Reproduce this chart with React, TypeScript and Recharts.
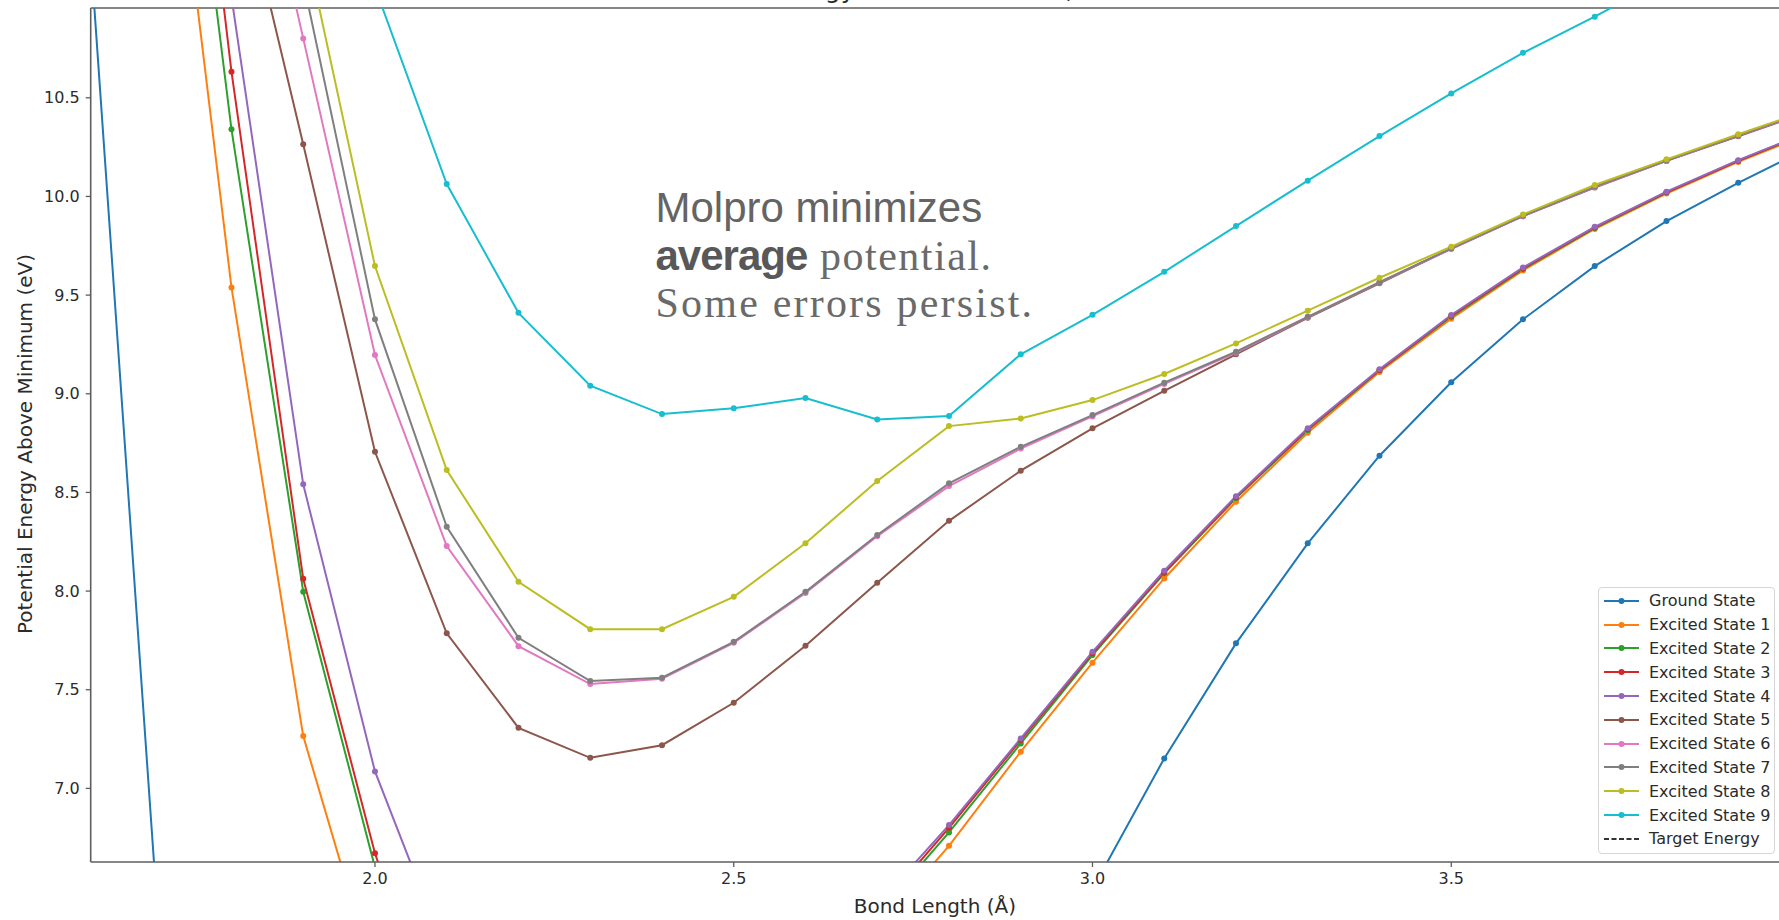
import { LineChart, Line, XAxis, YAxis, Legend, ReferenceLine, Label } from 'recharts'

// bond lengths (Å); null = point hidden outside this zoomed view
const bondLengths = [1.6, 1.7, 1.8, 1.9, 2.0, 2.1, 2.2, 2.3, 2.4, 2.5, 2.6, 2.7, 2.8, 2.9, 3.0, 3.1, 3.2, 3.3, 3.4, 3.5, 3.6, 3.7, 3.8, 3.9, 4.0]

const groundState = [11.42, 6.21, null, null, null, null, null, null, null, null, null, null, null, null, 6.49, 7.152, 7.735, 8.242, 8.686, 9.058, 9.377, 9.647, 9.875, 10.069, 10.25]
const excited1 = [null, 12.54, 9.539, 7.265, 6.03, null, null, null, null, null, null, 6.29, 6.709, 7.186, 7.637, 8.064, 8.453, 8.802, 9.11, 9.38, 9.625, 9.835, 10.015, 10.175, 10.32]
const excited2 = [null, 13.27, 10.34, 7.997, 6.6, null, null, null, null, null, null, 6.357, 6.777, 7.228, 7.676, 8.09, 8.47, 8.815, 9.118, 9.39, 9.632, 9.84, 10.02, 10.18, 10.327]
const excited3 = [null, 13.7, 10.632, 8.062, 6.671, 5.6, null, null, null, null, null, 6.38, 6.8, 7.245, 7.685, 8.095, 8.475, 8.82, 9.12, 9.395, 9.635, 9.843, 10.021, 10.181, 10.328]
const excited4 = [null, null, 11.01, 8.541, 7.086, 6.153, null, null, null, null, null, 6.41, 6.814, 7.253, 7.692, 8.103, 8.481, 8.825, 9.124, 9.399, 9.64, 9.846, 10.024, 10.184, 10.33]
const excited5 = [null, null, 11.79, 10.264, 8.706, 7.786, 7.307, 7.155, 7.219, 7.434, 7.723, 8.042, 8.356, 8.61, 8.825, 9.015, 9.2, 9.385, 9.56, 9.735, 9.9, 10.045, 10.18, 10.305, 10.43]
const excited6 = [null, null, 12.4, 10.801, 9.196, 8.228, 7.721, 7.529, 7.556, 7.738, 7.99, 8.278, 8.532, 8.722, 8.885, 9.05, 9.208, 9.388, 9.563, 9.735, 9.9, 10.048, 10.18, 10.308, 10.433]
const excited7 = [null, null, null, 11.09, 9.377, 8.326, 7.763, 7.544, 7.561, 7.743, 7.996, 8.284, 8.546, 8.731, 8.892, 9.056, 9.213, 9.39, 9.565, 9.737, 9.902, 10.05, 10.182, 10.31, 10.435]
const excited8 = [null, null, null, 11.33, 9.647, 8.613, 8.047, 7.807, 7.807, 7.971, 8.242, 8.558, 8.836, 8.875, 8.968, 9.1, 9.255, 9.421, 9.588, 9.745, 9.909, 10.058, 10.188, 10.315, 10.44]
const excited9 = [null, null, null, null, 11.06, 10.063, 9.41, 9.041, 8.897, 8.926, 8.978, 8.87, 8.887, 9.2, 9.4, 9.618, 9.85, 10.08, 10.306, 10.522, 10.728, 10.911, 11.107, 11.29, 11.47]

const seriesValues = [groundState, excited1, excited2, excited3, excited4, excited5, excited6, excited7, excited8, excited9]
const seriesNames = ['Ground State', 'Excited State 1', 'Excited State 2', 'Excited State 3', 'Excited State 4', 'Excited State 5', 'Excited State 6', 'Excited State 7', 'Excited State 8', 'Excited State 9']
const seriesColors = ['#1f77b4', '#ff7f0e', '#2ca02c', '#d62728', '#9467bd', '#8c564b', '#e377c2', '#7f7f7f', '#bcbd22', '#17becf']

const xTicks = [2.0, 2.5, 3.0, 3.5]
const yTicks = [7.0, 7.5, 8.0, 8.5, 9.0, 9.5, 10.0, 10.5]

const X_DOMAIN: [number, number] = [1.6038, 3.9568]
const Y_DOMAIN: [number, number] = [6.627, 10.955]

const FONT = '"DejaVu Sans", sans-serif'
const SPINE = '#5e5e5e'
const TEXT = '#2b2b2b'

const rows = bondLengths.map((x, i) => {
  const row: Record<string, number | null> = { x }
  seriesValues.forEach((vals, s) => {
    row['s' + s] = vals[i]
  })
  return row
})

const fmt = (v: number) => v.toFixed(1)

function LegendBox() {
  const entries = [...seriesNames, 'Target Energy']
  return (
    <div
      style={{
        boxSizing: 'border-box',
        width: 177,
        height: 267,
        border: '1px solid #d6d6d6',
        borderRadius: 4,
        background: 'rgba(255,255,255,0.85)',
        paddingTop: 1,
        fontFamily: FONT,
        fontSize: 16,
        color: TEXT,
      }}
    >
      {entries.map((name, i) => {
        const color = seriesColors[i]
        return (
          <div key={name} style={{ display: 'flex', alignItems: 'center', height: 23.8, whiteSpace: 'nowrap' }}>
            <svg width={40} height={10} style={{ marginLeft: 4, flex: 'none' }}>
              {color ? (
                <>
                  <line x1={1} y1={5} x2={36} y2={5} stroke={color} strokeWidth={2} />
                  <circle cx={18.5} cy={5} r={3} fill={color} />
                </>
              ) : (
                <line x1={1} y1={5} x2={36} y2={5} stroke="#333" strokeWidth={2} strokeDasharray="5 2.5" />
              )}
            </svg>
            <span style={{ marginLeft: 6 }}>{name}</span>
          </div>
        )
      })}
    </div>
  )
}

function YLabel(props: any) {
  const vb = props.viewBox || { x: 0, y: 8, width: 90.7, height: 854 }
  const cx = vb.x + 24.5
  const cy = vb.y + vb.height / 2 + 9
  return (
    <text
      x={cx}
      y={cy}
      transform={`rotate(-90 ${cx} ${cy})`}
      textAnchor="middle"
      dominantBaseline="central"
      style={{ fontFamily: FONT, fontSize: 20, fill: TEXT }}
    >
      Potential Energy Above Minimum (eV)
    </text>
  )
}

export default function App() {
  return (
    <div style={{ position: 'absolute', left: 0, top: 0, width: 1779, height: 920, background: '#fff' }}>
      <LineChart width={1779} height={920} data={rows} margin={{ top: 8, right: 0, bottom: 0, left: 0 }}>
        <text x={936} y={-2} textAnchor="middle" style={{ fontFamily: FONT, fontSize: 25, fill: TEXT }}>
          Potential Energy Above Minimum, SA-CASSCF
        </text>
        <XAxis
          dataKey="x"
          type="number"
          domain={X_DOMAIN}
          allowDataOverflow
          ticks={xTicks}
          interval={0}
          tickFormatter={fmt}
          height={58}
          tickSize={5}
          tickMargin={6}
          axisLine={{ stroke: SPINE, strokeWidth: 1.6 }}
          tickLine={{ stroke: SPINE, strokeWidth: 1.3 }}
          tick={{ fontSize: 16, fill: TEXT, fontFamily: FONT }}
        >
          <Label
            value="Bond Length (Å)"
            position="insideBottom"
            offset={7}
            style={{ fontFamily: FONT, fontSize: 20, fill: TEXT }}
          />
        </XAxis>
        <YAxis
          type="number"
          domain={Y_DOMAIN}
          allowDataOverflow
          ticks={yTicks}
          interval={0}
          tickFormatter={fmt}
          width={90.7}
          tickSize={5}
          tickMargin={6}
          axisLine={{ stroke: SPINE, strokeWidth: 1.6 }}
          tickLine={{ stroke: SPINE, strokeWidth: 1.3 }}
          tick={{ fontSize: 16, fill: TEXT, fontFamily: FONT }}
        >
          <Label content={YLabel} />
        </YAxis>
        <ReferenceLine y={Y_DOMAIN[1]} stroke={SPINE} strokeWidth={1.6} />
        {seriesValues.map((_, s) => (
          <Line
            key={s}
            dataKey={'s' + s}
            name={seriesNames[s]}
            stroke={seriesColors[s]}
            strokeWidth={2}
            dot={{ r: 3, fill: seriesColors[s], stroke: seriesColors[s], strokeWidth: 0 }}
            activeDot={false}
            isAnimationActive={false}
          />
        ))}
        <Legend
          layout="vertical"
          align="center"
          verticalAlign="middle"
          content={LegendBox}
          wrapperStyle={{ left: 1598, top: 587, width: 177, height: 267 }}
        />
        <g style={{ fill: '#646464' }}>
          <text x={655.5} y={221.7} style={{ fontFamily: '"Liberation Sans", Arial, sans-serif', fontSize: 42 }}>
            Molpro minimizes
          </text>
          <text
            x={655.5}
            y={270}
            style={{ fontFamily: '"Liberation Sans", Arial, sans-serif', fontSize: 42, fontWeight: 700, letterSpacing: -1, fill: '#585858' }}
          >
            average
          </text>
          <text x={820} y={270} style={{ fontFamily: '"Liberation Serif", "Times New Roman", serif', fontSize: 42, letterSpacing: 1.5, fill: '#6a6a6a' }}>
            potential.
          </text>
          <text x={655.5} y={317} style={{ fontFamily: '"Liberation Serif", "Times New Roman", serif', fontSize: 42, letterSpacing: 2.2, fill: '#6a6a6a' }}>
            Some errors persist.
          </text>
        </g>
      </LineChart>
    </div>
  )
}
